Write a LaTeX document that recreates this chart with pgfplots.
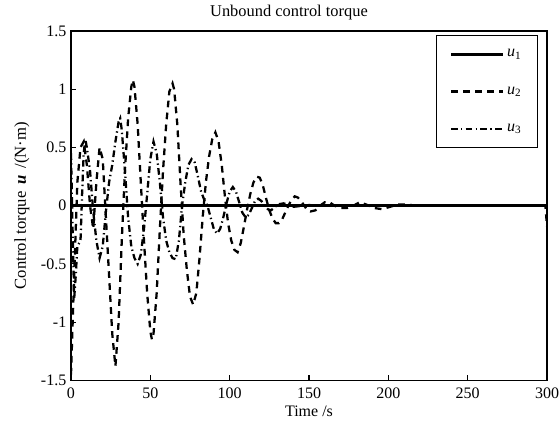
\documentclass[border=0pt]{standalone}
\usepackage{fontspec}
\setmainfont{Liberation Serif}
\usepackage{pgfplots}
\pgfplotsset{compat=1.18}
\usetikzlibrary{calc}

\pgfplotstableread{
t v
0 0
300 0
}\uone

\pgfplotstableread{
t v
0 -1.45
2 -0.6
4 0.2
6 0.5
8 0.55
10 0.35
12 0.0
14 -0.2
16 0.2
18 0.5
20 0.4
22 -0.1
24 -0.6
26 -1.1
28 -1.38
30 -1.0
32 -0.3
34 0.3
36 0.75
38 1.02
39 1.08
40 1.02
42 0.7
44 0.2
46 -0.3
48 -0.75
50 -1.08
51 -1.15
52 -1.1
54 -0.75
56 -0.2
58 0.3
60 0.7
62 0.98
64 1.05
65 1.0
67 0.7
69 0.2
71 -0.25
73 -0.55
75 -0.78
77 -0.85
79 -0.75
81 -0.45
83 -0.1
85 0.2
87 0.42
89 0.57
91 0.63
93 0.55
95 0.35
97 0.08
99 -0.15
101 -0.3
103 -0.38
105 -0.4
107 -0.32
109 -0.18
111 -0.03
113 0.1
115 0.2
117 0.25
119 0.24
121 0.17
123 0.06
125 -0.04
127 -0.11
129 -0.15
131 -0.15
133 -0.12
135 -0.06
137 0.0
139 0.05
141 0.08
143 0.07
145 0.04
147 0.0
149 -0.04
151 -0.05
154 -0.04
157 0.0
160 0.03
163 0.03
166 0.0
170 -0.02
174 -0.02
178 0.0
182 0.03
186 0.01
191 -0.02
196 -0.03
201 -0.01
206 0.01
211 0.01
218 0.0
230 0.0
299 0.0
300 -0.18
}\utwo

\pgfplotstableread{
t v
0 0.45
1 -0.2
2 -0.8
3 -0.6
4 -0.35
6 -0.3
7 0.1
8 0.45
9 0.57
10 0.5
12 0.3
14 -0.05
16 -0.3
18 -0.45
20 -0.35
22 -0.05
24 0.2
26 0.35
28 0.55
30 0.72
31 0.75
32 0.65
34 0.3
36 -0.1
38 -0.35
40 -0.45
42 -0.5
44 -0.42
46 -0.2
48 0.1
50 0.4
52 0.55
54 0.45
56 0.2
58 -0.1
60 -0.3
62 -0.4
64 -0.45
66 -0.46
68 -0.3
70 0.0
72 0.2
74 0.35
76 0.4
78 0.37
80 0.25
82 0.12
84 0.05
86 0.0
88 -0.1
90 -0.2
92 -0.24
94 -0.2
96 -0.1
98 0.02
100 0.12
102 0.16
104 0.12
106 0.03
108 -0.06
110 -0.1
112 -0.08
114 -0.02
116 0.04
118 0.06
120 0.04
122 0.0
124 -0.03
126 -0.04
128 -0.02
130 0.01
134 0.02
140 -0.01
150 0.005
160 0.0
300 0.0
}\uthree

\tikzset{
  solidu/.style={black, line width=2.2bp},
  dashu/.style={black, line width=1.7bp, dash pattern=on 5bp off 4bp},
  dashdotu/.style={black, line width=1.7bp, dash pattern=on 5bp off 2.5bp on 1bp off 2.5bp},
}

\begin{document}
\begin{tikzpicture}
\begin{axis}[
    name=ax,
    scale only axis,
    width=357bp, height=262bp,
    xmin=0, xmax=300, ymin=-1.5, ymax=1.5,
    xtick={0,50,...,300},
    ytick={-1.5,-1,...,1.5},
    tick align=inside,
    xtick pos=lower, ytick pos=lower,
    major tick length=4bp,
    axis line style={line width=0.8bp},
    every tick/.style={black, line width=0.8bp},
    /pgf/number format/assume math mode=true,
    tick label style={font=\fontsize{12bp}{14bp}\selectfont},
    xticklabel style={yshift=-2.5bp},
    label style={font=\fontsize{12bp}{14bp}\selectfont},
    every axis title shift=0pt,
    title style={font=\fontsize{12.3bp}{14bp}\selectfont, at={(axis description cs:0.458,1.054)}, anchor=center},
    title={Unbound control torque},
    xlabel={Time /s},
    ylabel={Control torque\, \textbf{\textit{u}}\, /(N·m)},
    xlabel style={at={(axis description cs:0.5,-0.089)}, anchor=center},
    ylabel style={at={(axis description cs:-0.103,0.5)}, anchor=center, font=\fontsize{12.5bp}{14bp}\selectfont},
    legend cell align=left,
    legend style={at={(axis description cs:0.981,0.9885)}, anchor=north east,
      draw=black, line width=0.8bp, inner xsep=10bp, inner ysep=8.5bp, row sep=17bp,
      font=\fontsize{12bp}{14bp}\selectfont},
    legend image code/.code={\draw[#1] (0bp,0bp) -- (39bp,0bp);},
]
\addplot[dashu, forget plot] table[x=t, y=v] {\utwo};
\addplot[dashdotu, forget plot] table[x=t, y=v] {\uthree};
\addplot[solidu, forget plot] table[x=t, y=v] {\uone};
\addlegendimage{solidu}
\addlegendentry{\textit{u}\textsubscript{1}}
\addlegendimage{dashu}
\addlegendentry{\textit{u}\textsubscript{2}}
\addlegendimage{dashdotu}
\addlegendentry{\textit{u}\textsubscript{3}}
\end{axis}
\pgfresetboundingbox
\path[use as bounding box] ($(ax.south west)+(-53.25bp,-32.25bp)$) rectangle ($(ax.north east)+(9.75bp,23.25bp)$);
\end{tikzpicture}
\end{document}
